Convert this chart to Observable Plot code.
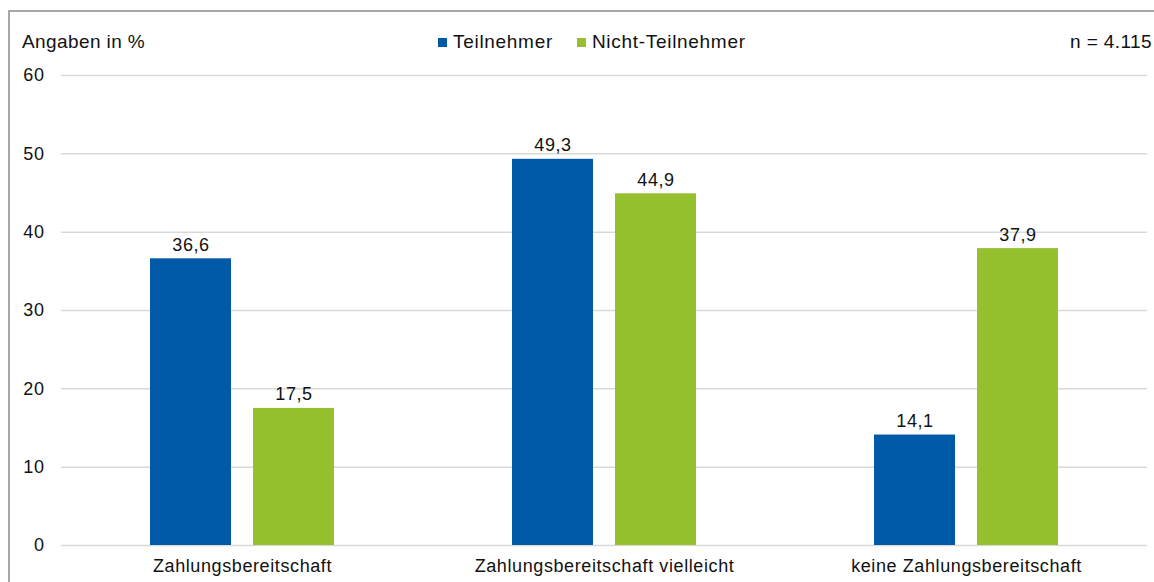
<!DOCTYPE html>
<html>
<head>
<meta charset="utf-8">
<script src="https://cdn.jsdelivr.net/npm/d3@7"></script>
<script src="https://cdn.jsdelivr.net/npm/@observablehq/plot@0.6"></script>
<style>
  html, body { margin: 0; padding: 0; background: #fff; }
  body { width: 1154px; height: 582px; overflow: hidden; position: relative;
         font-family: Arial, "Liberation Sans", sans-serif; color: #111; }
  #frame { position: absolute; left: 8px; top: 10px; right: -10px; bottom: -10px;
           border-top: 2px solid #a8a8a8; border-left: 2px solid #a8a8a8; }
  .hdr { position: absolute; top: 30px; font-size: 19px; line-height: 24px; white-space: nowrap; letter-spacing: 0.4px; }
  #legend { left: 438px; display: flex; align-items: center; letter-spacing: 0.7px; }
  #legend .sw { width: 9px; height: 9px; display: inline-block; margin-right: 6px; }
  #legend .item { display: flex; align-items: center; margin-right: 24px; }
  #chart { position: absolute; left: 0; top: 60px; }
</style>
</head>
<body>
<div id="frame"></div>
<div class="hdr" id="unit" style="left:22px;">Angaben in %</div>
<div class="hdr" id="legend"></div>
<div class="hdr" id="nlabel" style="right:2px;">n = 4.115</div>
<div id="chart"></div>
<script>
const categories = ["Zahlungsbereitschaft", "Zahlungsbereitschaft vielleicht", "keine Zahlungsbereitschaft"];
const series = ["Teilnehmer", "Nicht-Teilnehmer"];
const teilnehmer = [36.6, 49.3, 14.1];
const nichtTeilnehmer = [17.5, 44.9, 37.9];
const yTicks = [0, 10, 20, 30, 40, 50, 60];
const colors = ["#005aa8", "#95c12e"];

const data = [];
categories.forEach((c, i) => {
  data.push({category: c, series: series[0], value: teilnehmer[i]});
  data.push({category: c, series: series[1], value: nichtTeilnehmer[i]});
});

const legend = document.getElementById("legend");
series.forEach((s, i) => {
  const item = document.createElement("span");
  item.className = "item";
  const sw = document.createElement("span");
  sw.className = "sw";
  sw.style.background = colors[i];
  item.appendChild(sw);
  item.appendChild(document.createTextNode(s));
  legend.appendChild(item);
});

const fmt = v => v.toFixed(1).replace(".", ",");

const chart = Plot.plot({
  width: 1154,
  height: 522,
  marginTop: 15,
  marginBottom: 37,
  marginLeft: 60,
  marginRight: 6,
  style: {fontSize: "18px", fontFamily: "Arial, 'Liberation Sans', sans-serif", color: "#111", letterSpacing: "0.6px"},
  fx: {domain: categories, padding: 0, label: null},
  x: {domain: series, paddingInner: 0.21, paddingOuter: 0.846, axis: null},
  y: {domain: [0, 60], label: null},
  color: {domain: series, range: colors},
  marks: [
    Plot.gridY(yTicks, {stroke: "#d9d9d9", strokeOpacity: 1, strokeWidth: 1.5}),
    Plot.barY(data, {fx: "category", x: "series", y: "value", fill: "series"}),
    Plot.text(data, {fx: "category", x: "series", y: "value", text: d => fmt(d.value),
      lineAnchor: "bottom", dy: -8, fill: "#111"}),
    Plot.axisY(yTicks, {tickSize: 0, tickPadding: 17, label: null, tickFormat: d => String(d)}),
    Plot.axisFx({anchor: "bottom", tickSize: 0, tickPadding: 14, label: null})
  ]
});
document.getElementById("chart").appendChild(chart);
</script>
</body>
</html>
